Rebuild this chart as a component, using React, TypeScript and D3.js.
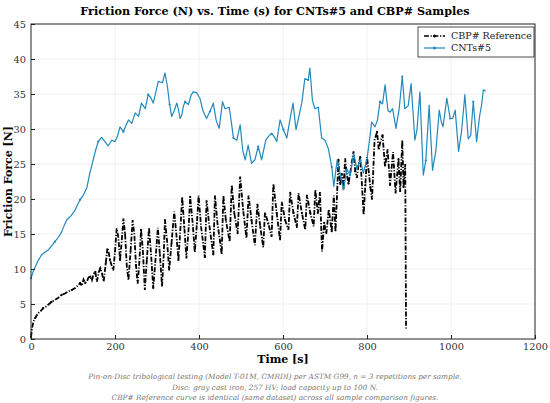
import { useEffect, useRef } from 'react';
import * as d3 from 'd3';

// CBP# Reference (black, dash-dot)
const cbpTime = [
  0, 3, 6, 10, 17, 23, 29, 35, 41, 49, 57, 65, 73, 81, 89, 97, 105, 111, 117, 121,
  125, 129, 133, 137, 141, 145, 149, 153, 157, 161, 165, 169, 173, 178, 182, 185, 188, 192, 196, 200,
  204, 208, 212, 216, 220, 224, 228, 232, 237, 242, 246, 250, 254, 258, 262, 266, 271, 276, 281, 286,
  291, 296, 302, 307, 312, 316, 319, 324, 329, 335, 341, 346, 351, 356, 360, 365, 370, 375, 379, 385,
  390, 395, 399, 405, 414, 418, 424, 434, 438, 444, 450, 454, 458, 464, 473, 478, 484, 492, 498, 505,
  513, 518, 525, 533, 539, 546, 553, 557, 565, 573, 577, 585, 593, 597, 605, 613, 617, 625, 633, 637,
  645, 653, 657, 665, 673, 677, 683, 688, 693, 698, 703, 709, 716, 721, 725, 732, 736, 740, 744, 748,
  752, 756, 762, 768, 772, 776, 780, 784, 788, 792, 796, 800, 804, 808, 812, 818, 824, 828, 831, 837,
  843, 849, 855, 862, 868, 875, 879, 884, 887, 891, 893,
];
const cbpForce = [
  0.3, 1.7, 2.5, 3.0, 3.7, 4.0, 4.4, 4.6, 4.9, 5.3, 5.6, 5.9, 6.3, 6.5, 6.8, 7.0, 7.3, 7.6, 8.0, 7.6,
  8.5, 8.0, 8.2, 8.8, 8.9, 8.4, 9.3, 9.6, 8.2, 9.5, 10.1, 9.4, 8.2, 10.8, 13.0, 12.4, 11.3, 10.5, 9.8, 12.5,
  15.8, 14.5, 11.3, 14.0, 17.2, 15.0, 10.5, 8.4, 12.5, 17.0, 15.0, 10.5, 7.9, 11.0, 15.6, 13.0, 7.0, 11.5, 15.9, 12.0,
  7.3, 11.0, 15.9, 12.0, 7.5, 12.0, 17.0, 14.0, 9.8, 14.0, 18.2, 15.0, 11.3, 16.0, 20.3, 16.0, 11.5, 15.5, 20.3, 16.5,
  12.4, 16.5, 20.5, 16.0, 11.7, 19.8, 16.5, 12.1, 20.5, 16.5, 14.0, 12.1, 20.5, 17.0, 13.9, 22.0, 18.0, 15.0, 23.2, 18.5,
  14.4, 20.5, 17.0, 13.4, 19.3, 16.0, 13.1, 18.1, 16.5, 14.6, 22.2, 18.0, 14.1, 19.6, 17.0, 15.6, 21.0, 18.0, 15.9, 20.8,
  18.0, 15.6, 20.6, 18.0, 16.1, 21.3, 18.0, 21.0, 12.5, 16.6, 15.0, 18.5, 15.4, 20.5, 15.3, 25.6, 22.0, 23.7, 21.5, 25.8,
  23.5, 22.2, 24.5, 26.8, 24.0, 23.0, 25.0, 26.0, 22.0, 17.7, 22.0, 26.0, 24.0, 21.7, 19.9, 28.4, 29.6, 27.0, 28.0, 29.1,
  24.6, 27.1, 22.0, 26.7, 20.8, 25.7, 21.0, 28.4, 21.7, 25.0, 1.3,
];

// CNTs#5 (blue)
const cntTime = [
  0, 5, 10, 17, 25, 33, 41, 49, 57, 65, 73, 79, 85, 95, 105, 111, 117, 125, 133, 137,
  140, 144, 148, 154, 160, 168, 176, 184, 192, 200, 206, 212, 220, 226, 232, 240, 248, 256, 263, 272,
  279, 285, 291, 297, 303, 313, 319, 325, 330, 335, 341, 347, 351, 355, 359, 363, 367, 375, 381, 386,
  394, 402, 410, 418, 426, 434, 441, 448, 456, 462, 472, 477, 482, 490, 498, 504, 510, 517, 525, 533,
  541, 549, 559, 565, 573, 581, 585, 593, 601, 609, 617, 624, 631, 639, 645, 652, 660, 664, 670, 676,
  684, 692, 700, 708, 716, 721, 729, 737, 744, 752, 760, 768, 776, 784, 791, 800, 807, 811, 819, 825,
  831, 837, 843, 850, 855, 861, 869, 877, 884, 890, 898, 905, 914, 919, 926, 934, 940, 948, 956, 964,
  972, 977, 981, 990, 998, 1004, 1010, 1018, 1025, 1033, 1041, 1047, 1053, 1061, 1068, 1073, 1077, 1083,
];
const cntForce = [
  8.7, 9.6, 10.3, 11.2, 12.0, 12.4, 12.7, 13.3, 13.9, 14.5, 15.3, 16.2, 17.0, 17.6, 18.4, 19.2, 19.9, 20.6, 21.6, 22.8,
  23.7, 24.6, 25.6, 27.0, 28.2, 28.8, 28.2, 27.6, 28.4, 28.2, 29.0, 30.3, 29.6, 30.5, 31.3, 30.8, 32.3, 31.8, 33.7, 32.9,
  34.9, 34.5, 33.7, 35.2, 36.8, 36.6, 38.0, 36.0, 33.5, 31.8, 32.6, 33.7, 32.8, 31.5, 32.0, 33.3, 33.9, 33.5, 34.8, 35.3,
  35.2, 34.4, 32.5, 31.5, 32.5, 33.7, 31.2, 30.1, 33.9, 32.9, 33.1, 31.0, 28.7, 28.4, 30.6, 27.0, 25.6, 27.7, 25.1, 25.6,
  27.5, 25.6, 28.4, 28.9, 29.4, 28.7, 28.2, 31.3, 29.9, 28.7, 31.5, 33.7, 29.9, 32.1, 33.8, 37.2, 37.0, 38.7, 34.1, 32.9,
  33.1, 28.7, 28.4, 27.2, 24.6, 21.8, 25.6, 23.3, 21.3, 24.3, 23.3, 26.5, 24.3, 25.7, 23.7, 25.7, 28.9, 31.0, 30.3, 31.3,
  33.9, 33.6, 36.3, 32.6, 32.4, 32.9, 30.1, 33.1, 37.5, 32.9, 33.3, 36.5, 28.4, 29.9, 35.3, 23.4, 25.5, 33.4, 24.1, 26.9,
  32.7, 31.0, 30.3, 34.4, 31.5, 31.5, 32.7, 26.8, 29.6, 34.9, 28.6, 29.1, 33.9, 28.2, 31.8, 33.5, 35.6, 35.4,
];

const xTicks = [0, 200, 400, 600, 800, 1000, 1200];
const yTicks = [0, 5, 10, 15, 20, 25, 30, 35, 40, 45];

const footnotes = [
  'Pin-on-Disc tribological testing (Model T-01M, CMRDI) per ASTM G99, n = 3 repetitions per sample.',
  'Disc: gray cast iron, 257 HV; load capacity up to 100 N.',
  'CBP# Reference curve is identical (same dataset) across all sample comparison figures.',
];

const W = 550;
const H = 403;
const BLUE = '#2089bd';
const SERIF = '"DejaVu Serif", serif';

export default function App() {
  const svgRef = useRef<SVGSVGElement>(null);

  useEffect(() => {
    if (!svgRef.current) return;
    const svg = d3.select(svgRef.current);
    svg.selectAll('*').remove();

    const margin = { top: 24, right: 15, bottom: 64, left: 31 };
    const innerW = W - margin.left - margin.right;
    const innerH = H - margin.top - margin.bottom;

    const x = d3.scaleLinear().domain([0, 1200]).range([0, innerW]);
    const y = d3.scaleLinear().domain([0, 45]).range([innerH, 0]);

    svg.append('rect').attr('width', W).attr('height', H).attr('fill', '#fff');

    const g = svg.append('g').attr('transform', `translate(${margin.left},${margin.top})`);

    // grid
    g.append('g')
      .selectAll('line')
      .data(xTicks.slice(1, -1))
      .join('line')
      .attr('x1', d => x(d)).attr('x2', d => x(d))
      .attr('y1', 0).attr('y2', innerH)
      .attr('stroke', '#ebebeb').attr('stroke-width', 0.7);
    g.append('g')
      .selectAll('line')
      .data(yTicks.slice(1, -1))
      .join('line')
      .attr('x1', 0).attr('x2', innerW)
      .attr('y1', d => y(d)).attr('y2', d => y(d))
      .attr('stroke', '#ebebeb').attr('stroke-width', 0.7);

    const cbp = cbpTime.map((t, i) => [t, cbpForce[i]] as [number, number]);
    const cnt = cntTime.map((t, i) => [t, cntForce[i]] as [number, number]);

    const line = d3.line<[number, number]>()
      .x(d => x(d[0]))
      .y(d => y(d[1]));

    // CBP# reference
    g.append('path')
      .datum(cbp)
      .attr('fill', 'none')
      .attr('stroke', '#000')
      .attr('stroke-width', 1.8)
      .attr('stroke-dasharray', '5,1.6,1.2,1.6')
      .attr('d', line);
    g.append('g')
      .selectAll('circle')
      .data(cbp.filter((_, i) => i % 3 === 0))
      .join('circle')
      .attr('cx', d => x(d[0]))
      .attr('cy', d => y(d[1]))
      .attr('r', 1.1)
      .attr('fill', '#000');

    // CNTs#5
    g.append('path')
      .datum(cnt)
      .attr('fill', 'none')
      .attr('stroke', BLUE)
      .attr('stroke-width', 1.2)
      .attr('stroke-linejoin', 'round')
      .attr('d', line);
    g.append('g')
      .selectAll('circle')
      .data(cnt.filter((_, i) => i % 8 === 0))
      .join('circle')
      .attr('cx', d => x(d[0]))
      .attr('cy', d => y(d[1]))
      .attr('r', 1.1)
      .attr('fill', BLUE);

    // frame
    g.append('rect')
      .attr('width', innerW).attr('height', innerH)
      .attr('fill', 'none').attr('stroke', '#222').attr('stroke-width', 1);

    // ticks, pointing inward
    const xAxis = g.append('g').attr('transform', `translate(0,${innerH})`)
      .call(d3.axisBottom(x).tickValues(xTicks).tickFormat(d3.format('d'))
        .tickSizeInner(-4).tickSizeOuter(0).tickPadding(4));
    const yAxis = g.append('g')
      .call(d3.axisLeft(y).tickValues(yTicks).tickFormat(d3.format('d'))
        .tickSizeInner(-4).tickSizeOuter(0).tickPadding(5));
    [xAxis, yAxis].forEach(a => {
      a.select('.domain').remove();
      a.selectAll('line').attr('stroke', '#222');
      a.selectAll('text').attr('font-family', SERIF).attr('font-size', 9.8).attr('fill', '#333');
    });

    // title and labels
    svg.append('text')
      .attr('x', 275).attr('y', 15)
      .attr('text-anchor', 'middle')
      .attr('font-family', SERIF).attr('font-weight', 'bold').attr('font-size', 11.2)
      .text('Friction Force (N) vs. Time (s) for CNTs#5 and CBP# Samples');
    svg.append('text')
      .attr('x', margin.left + innerW / 2).attr('y', 363)
      .attr('text-anchor', 'middle')
      .attr('font-family', SERIF).attr('font-weight', 'bold').attr('font-size', 11)
      .text('Time [s]');
    svg.append('text')
      .attr('transform', `translate(12,${margin.top + innerH / 2}) rotate(-90)`)
      .attr('text-anchor', 'middle')
      .attr('font-family', SERIF).attr('font-weight', 'bold').attr('font-size', 11)
      .text('Friction Force [N]');

    svg.append('g')
      .selectAll('text')
      .data(footnotes)
      .join('text')
      .attr('x', 275)
      .attr('y', (_, i) => 379 + i * 10.5)
      .attr('text-anchor', 'middle')
      .attr('font-family', SERIF).attr('font-style', 'italic').attr('font-size', 7.3)
      .attr('fill', '#777')
      .text(d => d);

    // legend
    const lg = svg.append('g').attr('transform', 'translate(418,27)');
    lg.append('rect')
      .attr('width', 116).attr('height', 30)
      .attr('fill', '#fff').attr('stroke', '#222').attr('stroke-width', 0.8);
    const entries = [
      { label: 'CBP# Reference', color: '#000', dash: '5,1.6,1.2,1.6', w: 1.6 },
      { label: 'CNTs#5', color: BLUE, dash: null, w: 1.2 },
    ];
    entries.forEach((e, i) => {
      const yy = 9 + i * 12;
      lg.append('line')
        .attr('x1', 6).attr('x2', 27).attr('y1', yy).attr('y2', yy)
        .attr('stroke', e.color).attr('stroke-width', e.w)
        .attr('stroke-dasharray', e.dash);
      lg.append('circle').attr('cx', 16.5).attr('cy', yy).attr('r', 1.5).attr('fill', e.color);
      lg.append('text')
        .attr('x', 33).attr('y', yy + 3.3)
        .attr('font-family', SERIF).attr('font-size', 9.5).attr('fill', '#222')
        .text(e.label);
    });
  }, []);

  return (
    <svg
      ref={svgRef}
      width={W}
      height={H}
      style={{ position: 'absolute', left: 0, top: 0, display: 'block' }}
    />
  );
}
